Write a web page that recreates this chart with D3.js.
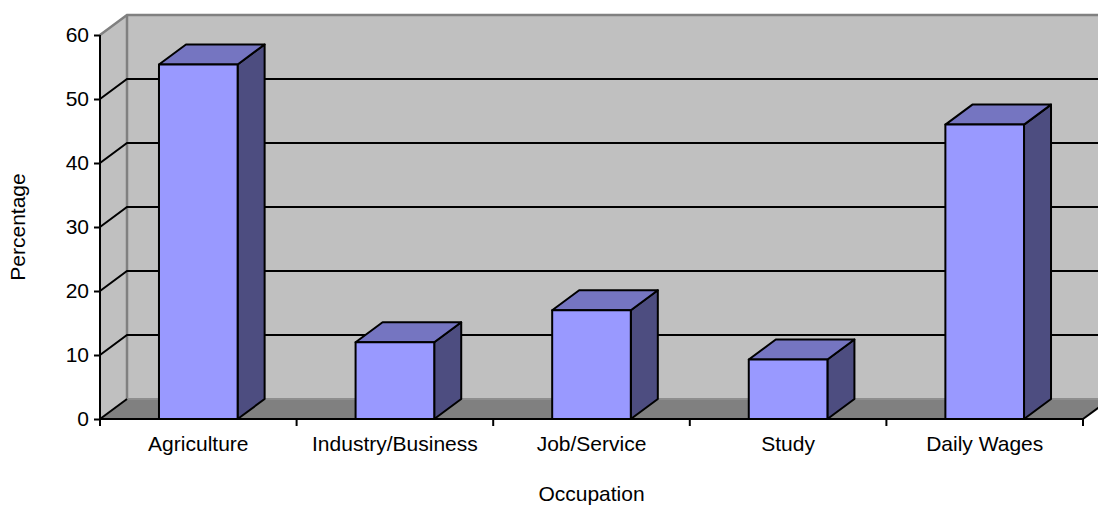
<!DOCTYPE html>
<html>
<head>
<meta charset="utf-8">
<script src="https://cdn.jsdelivr.net/npm/d3@7"></script>
<style>
  html, body { margin: 0; padding: 0; background: #fff; }
  svg { display: block; }
  text { font-family: "Liberation Sans", Arial, sans-serif; fill: #000; }
</style>
</head>
<body>
<svg id="chart" width="1098" height="506"></svg>
<script>
// Share of respondents by occupation (%)
const categories = ["Agriculture", "Industry/Business", "Job/Service", "Study", "Daily Wages"];
const values = [55.4, 12, 17, 9.3, 46];
const yTicks = [0, 10, 20, 30, 40, 50, 60];
const xTitle = "Occupation";
const yTitle = "Percentage";

(function () {
  const W = 1098;
  const plotL = 100, plotR = 1083, plotT = 35, plotB = 419;
  const depthX = 27, depthY = -20;          // oblique depth of walls and bars
  const gapRatio = 1.5;                      // gap width relative to bar width
  const fontSize = "21px";

  const svg = d3.select("#chart");

  const x = d3.scaleBand().domain(categories).range([plotL, plotR]).padding(0);
  const y = d3.scaleLinear().domain([0, 60]).range([plotB, plotT]);

  const barW = x.step() / (1 + gapRatio);
  const wallColor = "#c0c0c0", floorColor = "#808080", edgeColor = "#808080";

  const g = svg.append("g");

  // back wall
  g.append("rect")
    .attr("x", plotL + depthX).attr("y", y(60) + depthY)
    .attr("width", W - plotL - depthX + 40).attr("height", y(0) - y(60))
    .attr("fill", wallColor);

  // left side wall
  g.append("path")
    .attr("d", `M${plotL},${y(0)} L${plotL},${y(60)} L${plotL + depthX},${y(60) + depthY} L${plotL + depthX},${y(0) + depthY} Z`)
    .attr("fill", wallColor);

  // floor
  g.append("path")
    .attr("d", `M${plotL},${y(0)} L${plotR + 40},${y(0)} L${plotR + 40 + depthX},${y(0) + depthY} L${plotL + depthX},${y(0) + depthY} Z`)
    .attr("fill", floorColor);
  // white area to the right of the floor front corner
  g.append("path")
    .attr("d", `M${plotR},${y(0)} L${plotR + depthX},${y(0) + depthY} L${W + 50},${y(0) + depthY} L${W + 50},${y(0) + 2} Z`)
    .attr("fill", "#fff");

  // wall edges
  g.append("path")
    .attr("d", `M${plotL},${y(60)} L${plotL + depthX},${y(60) + depthY} L${W + 10},${y(60) + depthY}`)
    .attr("fill", "none").attr("stroke", edgeColor).attr("stroke-width", 2.5);
  g.append("line")
    .attr("x1", plotL + depthX).attr("x2", plotL + depthX)
    .attr("y1", y(60) + depthY).attr("y2", y(0) + depthY)
    .attr("stroke", edgeColor).attr("stroke-width", 2.5);
  g.append("line")
    .attr("x1", plotL + depthX).attr("x2", W + 10)
    .attr("y1", y(0) + depthY).attr("y2", y(0) + depthY)
    .attr("stroke", "#8e8e8e").attr("stroke-width", 2);

  // gridlines on side wall and back wall
  const grid = yTicks.filter(v => v > 0 && v < 60);
  g.selectAll(".grid").data(grid).join("path")
    .attr("class", "grid")
    .attr("d", v => `M${plotL},${y(v)} L${plotL + depthX},${y(v) + depthY} L${W + 10},${y(v) + depthY}`)
    .attr("fill", "none").attr("stroke", "#000").attr("stroke-width", 2);
  g.append("line")
    .attr("x1", plotL).attr("y1", y(0)).attr("x2", plotL + depthX).attr("y2", y(0) + depthY)
    .attr("stroke", "#000").attr("stroke-width", 2);

  // floor right edge
  g.append("line")
    .attr("x1", plotR).attr("y1", y(0)).attr("x2", plotR + depthX).attr("y2", y(0) + depthY)
    .attr("stroke", "#000").attr("stroke-width", 2);

  // bars
  const bars = g.selectAll(".bar").data(categories.map((c, i) => ({ c, v: values[i] }))).join("g").attr("class", "bar");
  bars.each(function (d) {
    const b = d3.select(this);
    const x0 = x(d.c) + (x.step() - barW) / 2, x1 = x0 + barW;
    const yt = y(d.v), yb = y(0);
    const faces = [
      [`M${x1},${yb} L${x1 + depthX},${yb + depthY} L${x1 + depthX},${yt + depthY} L${x1},${yt} Z`, "#4d4d80"],
      [`M${x0},${yt} L${x0 + depthX},${yt + depthY} L${x1 + depthX},${yt + depthY} L${x1},${yt} Z`, "#7575c1"],
      [`M${x0},${yb} L${x0},${yt} L${x1},${yt} L${x1},${yb} Z`, "#9999ff"]
    ];
    faces.forEach(([p, col]) => b.append("path").attr("d", p).attr("fill", col)
      .attr("stroke", "#000").attr("stroke-width", 2).attr("stroke-linejoin", "round"));
  });

  // y axis
  const yAxis = d3.axisLeft(y).tickValues(yTicks).tickSize(6).tickPadding(5).tickFormat(d3.format("d"));
  const ya = svg.append("g").attr("transform", `translate(${plotL},0)`).call(yAxis);
  ya.select(".domain").attr("stroke", "#000").attr("stroke-width", 2).attr("d", `M0,${y(60)} V${y(0)}`);
  ya.selectAll(".tick line").attr("stroke", "#000").attr("stroke-width", 2);
  ya.selectAll(".tick text").style("font-size", fontSize).attr("font-family", null);

  // x axis
  const xAxis = d3.axisBottom(x).tickSize(0).tickPadding(0);
  const xa = svg.append("g").attr("transform", `translate(0,${plotB})`).call(xAxis);
  xa.select(".domain").attr("stroke", "#000").attr("stroke-width", 2).attr("d", `M${plotL},0 H${plotR}`);
  xa.selectAll(".tick text").style("font-size", fontSize).attr("font-family", null)
    .attr("dy", null).attr("y", 32);
  const bounds = categories.map(c => x(c)).concat([plotR]);
  xa.selectAll(".btick").data(bounds).join("line").attr("class", "btick")
    .attr("x1", d => d).attr("x2", d => d).attr("y1", 0).attr("y2", 7)
    .attr("stroke", "#000").attr("stroke-width", 2);

  // titles
  svg.append("text").attr("x", (plotL + plotR) / 2).attr("y", 501)
    .attr("text-anchor", "middle").style("font-size", fontSize).text(xTitle);
  svg.append("text").attr("transform", `translate(25,227) rotate(-90)`)
    .attr("text-anchor", "middle").style("font-size", fontSize).text(yTitle);
})();
</script>
</body>
</html>
